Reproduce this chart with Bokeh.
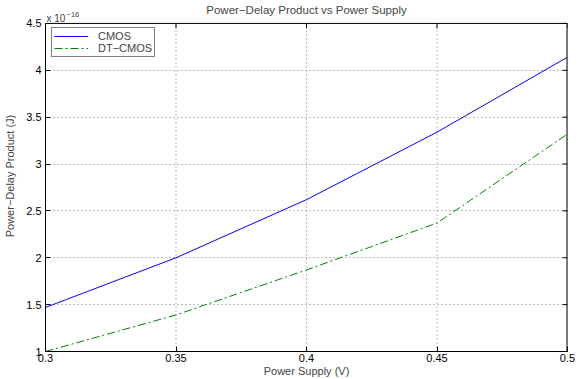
import math
from bokeh.plotting import figure
from bokeh.models import FixedTicker, Label, Legend, LegendItem, Range1d
from bokeh.embed import file_html
from bokeh.resources import INLINE

# Supply voltages (V) and power-delay products (units of 1e-16 J)
supply_v = [0.30, 0.35, 0.40, 0.45, 0.50]
cmos_pdp = [1.47, 2.00, 2.62, 3.34, 4.14]
dtcmos_pdp = [1.00, 1.39, 1.87, 2.37, 3.32]

x_ticks = [0.30, 0.35, 0.40, 0.45, 0.50]
x_tick_labels = ["0.3", "0.35", "0.4", "0.45", "0.5"]
y_ticks = [1.0, 1.5, 2.0, 2.5, 3.0, 3.5, 4.0, 4.5]
y_tick_labels = ["1", "1.5", "2", "2.5", "3", "3.5", "4", "4.5"]

FONT = "Liberation Sans"
X0, X1 = 0.3, 0.5
Y0, Y1 = 1.0, 4.5

# The frame reaches the top of the canvas so the title and the axis exponent
# can be drawn as labels above the boxed axes area.
W, H = 578, 379
BORDER_BOTTOM = 27
BOX_TOP_PX = 23
frame_h = H - BORDER_BOTTOM
y_top = Y0 + (Y1 - Y0) * frame_h / (frame_h - BOX_TOP_PX)

p = figure(width=W, height=H, output_backend="svg", toolbar_location=None, title=None,
           x_range=Range1d(X0, X1), y_range=Range1d(Y0, y_top),
           min_border_left=45, min_border_right=11, min_border_top=0,
           min_border_bottom=BORDER_BOTTOM,
           background_fill_color="white", border_fill_color="white")
p.outline_line_color = None

x_overrides = {t: s for t, s in zip(x_ticks, x_tick_labels)}
y_overrides = {t: s for t, s in zip(y_ticks, y_tick_labels)}

for ax in p.xaxis:
    ax.ticker = FixedTicker(ticks=x_ticks)
    ax.major_label_overrides = x_overrides
    ax.axis_label = "Power Supply (V)"
for ax in p.yaxis:
    ax.ticker = FixedTicker(ticks=y_ticks)
    ax.major_label_overrides = y_overrides
    ax.axis_label = "Power\u2212Delay Product (J)"
    ax.bounds = (Y0, Y1)

for ax in p.xaxis + p.yaxis:
    ax.major_tick_in = 5
    ax.major_tick_out = 0
    ax.minor_tick_line_color = None
    ax.axis_line_color = "black"
    ax.major_tick_line_color = "black"
    ax.major_label_text_font = FONT
    ax.major_label_text_font_size = "11px"
    ax.major_label_text_color = "black"
    ax.major_label_standoff = 2
    ax.axis_label_text_font = FONT
    ax.axis_label_text_font_size = "11px"
    ax.axis_label_text_font_style = "normal"
    ax.axis_label_standoff = 0
p.yaxis.major_label_standoff = 4
p.yaxis.axis_label_standoff = 7

# Horizontal dotted grid from the axis; vertical grid lines drawn as segments
# so they stop at the top of the box
p.ygrid.grid_line_color = "#808080"
p.ygrid.grid_line_dash = "1 3"
p.ygrid.grid_line_width = 1
p.xgrid.grid_line_color = None
p.segment(x0=x_ticks, y0=[Y0] * len(x_ticks), x1=x_ticks, y1=[Y1] * len(x_ticks),
          line_color="#808080", line_dash="1 3", line_width=1)

# Top and right edges of the box, with inward ticks
p.segment(x0=[X0], y0=[Y1], x1=[X1], y1=[Y1], line_color="black", line_width=1)
p.segment(x0=[X1], y0=[Y0], x1=[X1], y1=[Y1], line_color="black", line_width=2)
p.ray(x=x_ticks, y=[Y1] * len(x_ticks), length=5, length_units="screen",
      angle=-math.pi / 2, line_color="black", line_width=1)
p.ray(x=[X1] * len(y_ticks), y=y_ticks, length=5, length_units="screen",
      angle=math.pi, line_color="black", line_width=1)

r_cmos = p.line(supply_v, cmos_pdp, line_color="#0000ff", line_width=1)
r_dt = p.line(supply_v, dtcmos_pdp, line_color="#008000", line_width=1, line_dash="8 3 2 3")

legend = Legend(items=[LegendItem(label="CMOS", renderers=[r_cmos]),
                       LegendItem(label="DT\u2212CMOS", renderers=[r_dt])],
                location=(6, frame_h - 58))
legend.label_text_font = FONT
legend.label_text_font_size = "11px"
legend.label_text_line_height = 1.0
legend.border_line_color = "black"
legend.border_line_width = 1
legend.background_fill_alpha = 1
legend.margin = 0
legend.padding = 2
legend.spacing = 0
legend.label_height = 10
legend.glyph_height = 10
legend.glyph_width = 34
legend.label_standoff = 10
p.add_layout(legend)

# Title and y-axis exponent above the box
p.add_layout(Label(x=(X0 + X1) / 2, y=Y1, y_offset=13,
                   text="Power\u2212Delay Product vs Power Supply",
                   text_font=FONT, text_font_size="11.5px",
                   text_align="center", text_baseline="middle"))
p.add_layout(Label(x=X0, y=Y1, x_offset=1, y_offset=4.5, text="x 10",
                   text_font=FONT, text_font_size="10px", text_baseline="alphabetic"))
p.add_layout(Label(x=X0, y=Y1, x_offset=21, y_offset=9, text="\u221216",
                   text_font=FONT, text_font_size="7.5px", text_baseline="alphabetic"))

open("out.html", "w").write(file_html(p, INLINE))
